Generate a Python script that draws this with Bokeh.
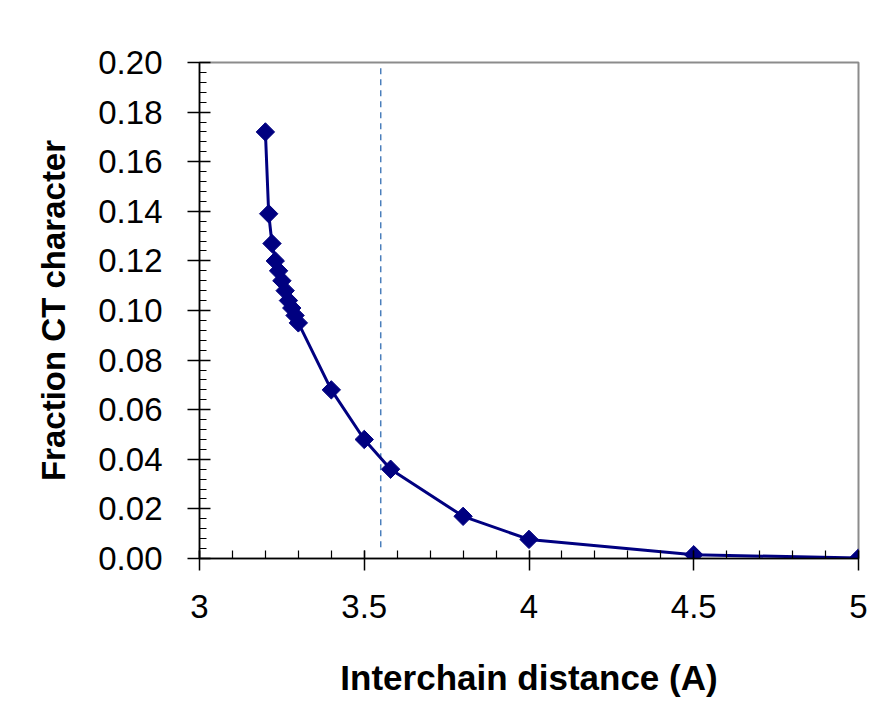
import math
from bokeh.plotting import figure
from bokeh.models import Range1d, FixedTicker
from bokeh.embed import file_html
from bokeh.resources import INLINE

# Data
distance = [3.20, 3.21, 3.22, 3.23, 3.24, 3.25, 3.26, 3.27, 3.28, 3.29, 3.30,
            3.40, 3.50, 3.58, 3.80, 4.00, 4.50, 5.00]
fraction_ct = [0.172, 0.139, 0.127, 0.120, 0.116, 0.112, 0.108, 0.104, 0.101, 0.098, 0.095,
               0.068, 0.048, 0.036, 0.017, 0.0077, 0.0015, 0.0002]
reference_distance = 3.55

x_ticks = [3, 3.5, 4, 4.5, 5]
x_tick_labels = {3: "3", 3.5: "3.5", 4: "4", 4.5: "4.5", 5: "5"}
y_ticks = [0.0, 0.02, 0.04, 0.06, 0.08, 0.10, 0.12, 0.14, 0.16, 0.18, 0.20]
y_tick_labels = {v: f"{v:.2f}" for v in y_ticks}

p = figure(width=884, height=714, output_backend="svg", toolbar_location=None,
           x_range=Range1d(3, 5), y_range=Range1d(0, 0.2),
           min_border_left=199, min_border_right=26, min_border_top=62, min_border_bottom=156)

p.border_fill_color = "white"
p.background_fill_color = "white"
p.outline_line_color = "#8c8c8c"
p.outline_line_width = 2
p.xgrid.visible = False
p.ygrid.visible = False

# reference dashed line
p.segment(x0=[reference_distance], y0=[0.0045], x1=[reference_distance], y1=[0.1985],
          line_color="#4a7ebb", line_width=1.5, line_dash="6 5")

p.line(distance, fraction_ct, line_color="#000080", line_width=3)
p.scatter(distance, fraction_ct, marker="square", angle=math.pi / 4, size=13,
          fill_color="#000080", line_color="#000080")

font = "Liberation Sans"
for ax in (p.xaxis[0], p.yaxis[0]):
    ax.axis_line_color = "black"
    ax.axis_line_width = 1.5
    ax.major_tick_line_color = "black"
    ax.major_tick_line_width = 1.5
    ax.minor_tick_line_color = "black"
    ax.minor_tick_line_width = 1.2
    ax.major_label_text_font = font
    ax.major_label_text_font_size = "33px"
    ax.major_label_text_color = "black"
    ax.axis_label_text_font = font
    ax.axis_label_text_font_style = "bold"
    ax.axis_label_text_color = "black"

p.xaxis.axis_label_text_font_size = "35px"
p.yaxis.axis_label_text_font_size = "33px"

p.xaxis.ticker = FixedTicker(ticks=x_ticks, minor_ticks=[3 + 0.1 * i for i in range(21)])
p.xaxis.major_label_overrides = x_tick_labels
p.xaxis.major_tick_in = 8
p.xaxis.major_tick_out = 12
p.xaxis.minor_tick_in = 8
p.xaxis.minor_tick_out = 0
p.xaxis.major_label_standoff = 24
p.xaxis.axis_label = "Interchain distance (A)"
p.xaxis.axis_label_standoff = 37

p.yaxis.ticker = FixedTicker(ticks=y_ticks, minor_ticks=[0.004 * i for i in range(51)])
p.yaxis.major_label_overrides = y_tick_labels
p.yaxis.major_tick_in = 11
p.yaxis.major_tick_out = 12
p.yaxis.minor_tick_in = 7
p.yaxis.minor_tick_out = 0
p.yaxis.major_label_standoff = 25
p.yaxis.axis_label = "Fraction CT character"
p.yaxis.axis_label_standoff = 23

open("out.html", "w").write(file_html(p, INLINE))
